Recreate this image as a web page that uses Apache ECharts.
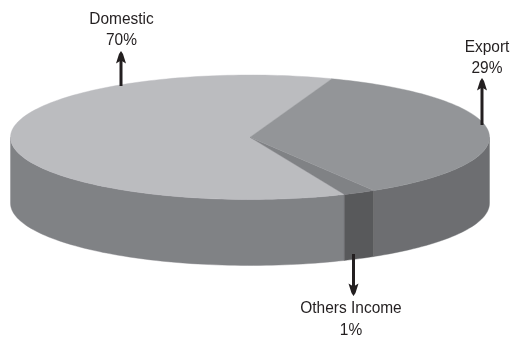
<!DOCTYPE html>
<html><head><meta charset="utf-8">
<style>html,body{margin:0;padding:0;background:#fff}#c{width:514px;height:338px}</style>
<script src="https://cdn.jsdelivr.net/npm/echarts@6/dist/echarts.min.js"></script>
</head><body><div id="c"></div>
<script>
// Slice order runs counter-clockwise from the Domestic/Export boundary.
const categories = ['Domestic', 'Others Income', 'Export'];
// Percentages printed on the labels.
const labelPercents = [70, 1, 29];
// Share of the circle each slice actually occupies in the drawing.
const drawnShares = [62, 2.2, 35.8];

const startAngle = 70;
const topColors = ['#bbbcbf', '#808285', '#939598'];
const sideColors = ['#808285', '#58595b', '#6d6e71'];
const wallDepth = 1.06; // wall height in disc-radius units
const ink = '#231f20';

function renderSlice(params, api) {
  const i = params.dataIndex;
  const total = drawnShares.reduce((a, b) => a + b, 0);
  const before = drawnShares.slice(0, i).reduce((a, b) => a + b, 0);
  const a0 = startAngle + before / total * 360;
  const a1 = a0 + api.value(1) / total * 360;
  const arc = (from, to) => {
    const pts = [];
    const n = Math.max(2, Math.ceil((to - from) / 1.5));
    for (let k = 0; k <= n; k++) {
      const t = (from + (to - from) * k / n) * Math.PI / 180;
      pts.push([Math.cos(t), Math.sin(t)]);
    }
    return pts;
  };
  const children = [];
  const drop = api.size([0, wallDepth])[1];
  // Front wall: the part of the slice on the near half of the ellipse.
  const w0 = Math.max(a0, 180), w1 = Math.min(a1, 360);
  if (w1 > w0) {
    const rim = arc(w0, w1).map(p => api.coord(p));
    const low = rim.map(p => [p[0], p[1] + drop]).reverse();
    children.push({
      type: 'polygon',
      shape: { points: rim.concat(low) },
      style: { fill: sideColors[i], stroke: sideColors[i], lineWidth: 0.4 }
    });
  }
  // Top face.
  const top = [api.coord([0, 0])].concat(arc(a0, a1).map(p => api.coord(p)));
  children.push({
    type: 'polygon',
    shape: { points: top },
    style: { fill: topColors[i], stroke: topColors[i], lineWidth: 0.4 }
  });
  return { type: 'group', children };
}

function arrow(x, y0, y1) {
  // y0 = tail, y1 = tip
  const d = y1 > y0 ? 1 : -1;
  return [
    { type: 'line', shape: { x1: x, y1: y0, x2: x, y2: y1 - d * 6 },
      style: { stroke: ink, lineWidth: 3 }, z: 10 },
    { type: 'polygon',
      shape: { points: [[x, y1], [x + 2, y1 - d * 3], [x + 5, y1 - d * 12.5], [x, y1 - d * 9.5], [x - 5, y1 - d * 12.5], [x - 2, y1 - d * 3]] },
      style: { fill: ink }, z: 10 }
  ];
}
function label(x, y, text) {
  return { type: 'text', x, y, scaleX: 0.91, z: 10, style: {
    text, fill: ink, font: '17px "Liberation Sans", Arial, sans-serif',
    textAlign: 'center', textVerticalAlign: 'middle' } };
}

const chart = echarts.init(document.getElementById('c'), null, { renderer: 'canvas' });
chart.setOption({
  animation: false,
  backgroundColor: '#fff',
  grid: { left: 10.5, width: 479, top: 75, height: 124.5 },
  xAxis: { type: 'value', min: -1, max: 1, show: false },
  yAxis: { type: 'value', min: -1, max: 1, show: false },
  series: [{
    type: 'custom',
    coordinateSystem: 'cartesian2d',
    clip: false,
    silent: true,
    renderItem: renderSlice,
    encode: { x: 0, y: 1 },
    data: categories.map((c, i) => ({ name: c, value: [i, drawnShares[i]] }))
  }],
  graphic: { elements: [
    ...arrow(121, 86, 51),
    ...arrow(482, 125, 78),
    ...arrow(353.5, 254, 296),
    label(121.5, 19, categories[0]),
    label(121.5, 40, labelPercents[0] + '%'),
    label(487, 47, categories[2]),
    label(487, 68, labelPercents[2] + '%'),
    label(351, 308, categories[1]),
    label(351, 330, labelPercents[1] + '%')
  ] }
});
</script>
</body></html>
